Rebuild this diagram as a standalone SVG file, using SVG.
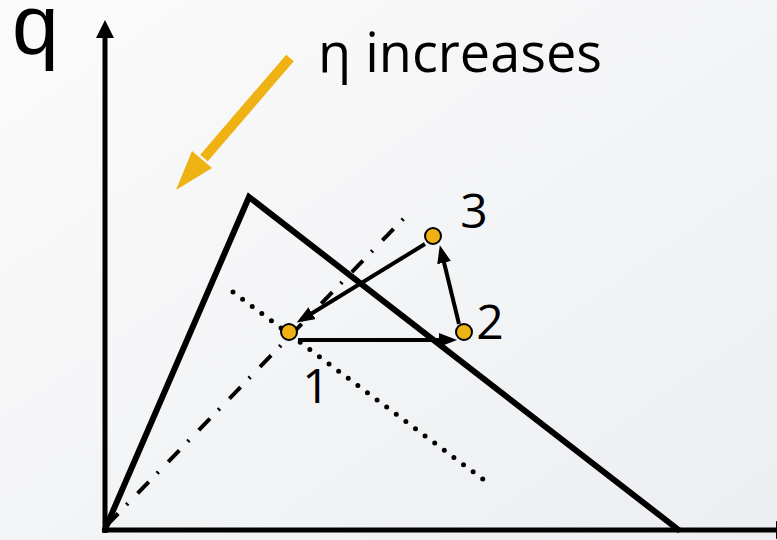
<svg xmlns="http://www.w3.org/2000/svg" width="777" height="540" viewBox="0 0 777 540">
<defs>
<linearGradient id="bg" x1="0" y1="0" x2="1" y2="1">
<stop offset="0" stop-color="#fbfbfb"/>
<stop offset="1" stop-color="#eceef1"/>
</linearGradient>
<marker id="ah" markerUnits="userSpaceOnUse" markerWidth="18" markerHeight="14" refX="13" refY="7" orient="auto" viewBox="0 0 18 14">
<path d="M0,0 L18,7 L0,14 z" fill="#000"/>
</marker>
</defs>
<style>
.ax{stroke:#000;stroke-width:5;fill:none}
.curve{stroke:#000;stroke-width:6;fill:none;stroke-linejoin:miter}
.conn{stroke:#000;stroke-width:4;fill:none;marker-end:url(#ah)}
.pt{fill:#eeb313;stroke:#000;stroke-width:2}
.lbl{font-family:"Open Sans","DejaVu Sans",sans-serif;font-size:48px;fill:#000}
</style>
<rect width="777" height="540" fill="url(#bg)"/>
<g id="axes">
<line class="ax" x1="105" y1="533" x2="105" y2="34"/>
<polygon points="105,20 114,38 96,38" fill="#000"/>
<line class="ax" x1="102" y1="530" x2="778" y2="530"/>
<polygon points="776,521 794,530 776,539" fill="#000"/>
<text x="12" y="54" font-family="'Liberation Sans',Arial,sans-serif" font-size="84" fill="#000">q</text>
</g>
<g id="curve">
<polyline class="curve" points="106,527 249,197 680,531"/>
</g>
<g id="guides">
<line x1="107" y1="525" x2="410" y2="212" stroke="#000" stroke-width="4" stroke-dasharray="16 12 2 14"/>
<line x1="233" y1="292" x2="484" y2="480" stroke="#000" stroke-width="5" stroke-linecap="round" stroke-dasharray="0 12"/>
</g>
<g id="eta-arrow">
<line x1="290" y1="58" x2="204" y2="158" stroke="#eeb313" stroke-width="10"/>
<polygon points="176,190 192,151 212,168" fill="#eeb313"/>
<text x="318" y="72" font-family="'Open Sans','DejaVu Sans',sans-serif" font-size="54" fill="#000">η increases</text>
</g>
<g id="connectors">
<line class="conn" x1="298" y1="340" x2="452" y2="340"/>
<line class="conn" x1="459" y1="324" x2="441" y2="250"/>
<line class="conn" x1="425" y1="244" x2="301" y2="320"/>
</g>
<g id="node1">
<circle class="pt" cx="289" cy="332" r="8"/>
<text class="lbl" x="316" y="403" text-anchor="middle">1</text>
</g>
<g id="node2">
<circle class="pt" cx="464" cy="332" r="8"/>
<text class="lbl" x="490" y="339" text-anchor="middle">2</text>
</g>
<g id="node3">
<circle class="pt" cx="433" cy="236" r="8"/>
<text class="lbl" x="474" y="228" text-anchor="middle">3</text>
</g>
</svg>
